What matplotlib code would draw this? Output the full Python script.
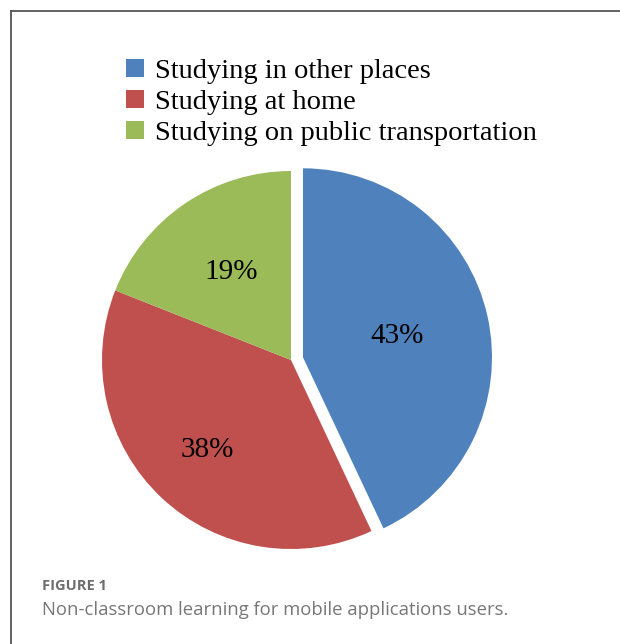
import numpy as np
import matplotlib.pyplot as plt
from matplotlib.lines import Line2D
from matplotlib.patches import Patch

labels = ["Studying in other places", "Studying at home", "Studying on public transportation"]
shares = [43, 38, 19]
colors = ["#4F81BD", "#C0504D", "#9BBB59"]
explode = [0.065, 0, 0]

W, H = 620, 644
fig = plt.figure(figsize=(W / 100, H / 100), dpi=100)

# pie axes: centre at (291, 360) px, radius 189 px
R = 189
half = 1.2 * R
ax = fig.add_axes([(291 - half) / W, (H - 360 - half) / H, 2 * half / W, 2 * half / H])
wedges, texts = ax.pie(shares, colors=colors, explode=explode, startangle=90,
                       counterclock=False, radius=1,
                       wedgeprops=dict(linewidth=0))
ax.set_xlim(-1.2, 1.2)
ax.set_ylim(-1.2, 1.2)
ax.set_aspect("equal")
ax.axis("off")

# percentage labels inside each wedge
dist = [0.51, 0.65, 0.56]
for w, s, d in zip(wedges, shares, dist):
    ang = np.radians((w.theta1 + w.theta2) / 2)
    cx, cy = w.center
    ax.text(cx + d * np.cos(ang), cy + d * np.sin(ang), f"{s}%",
            ha="center", va="center", fontsize=21, family="Liberation Serif")

handles = [Patch(facecolor=c, edgecolor="none") for c in colors]
fig.legend(handles, labels, loc="upper left", bbox_to_anchor=(112 / W, 1 - 45 / H),
           frameon=False, borderpad=0, handlelength=0.62, handleheight=0.6,
           handletextpad=0.38, labelspacing=0.2,
           prop=dict(family="Liberation Serif", size=20.5))

# frame lines (left and top)
fig.add_artist(Line2D([11 / W, 11 / W], [0, 1 - 11 / H], color="#555555", lw=1.3))
fig.add_artist(Line2D([11 / W, 1], [1 - 11 / H, 1 - 11 / H], color="#555555", lw=1.3))

fig.text(42 / W, 1 - 586 / H, "FIGURE 1", fontsize=10.5, color="#6d6d6d",
         family="Open Sans", fontweight="bold", va="center")
fig.text(42 / W, 1 - 610 / H, "Non-classroom learning for mobile applications users.",
         fontsize=13.3, color="#777777", family="Open Sans", va="center")

fig.savefig("out.png", dpi=100)
